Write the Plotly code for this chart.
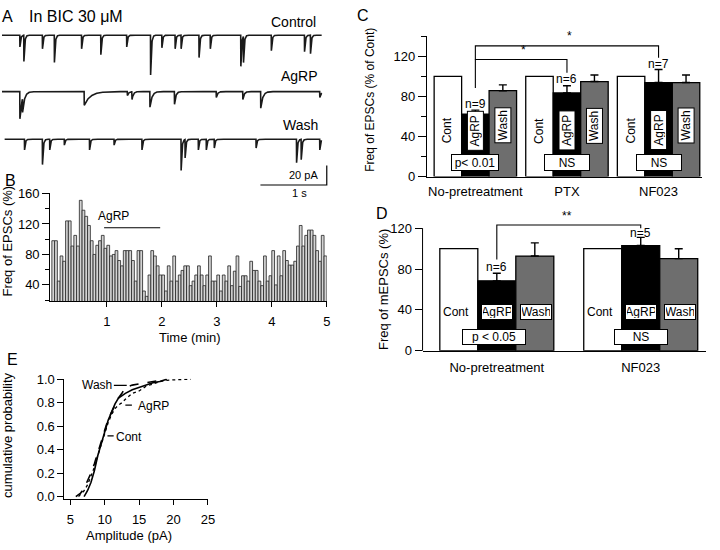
import numpy as np
import plotly.graph_objects as go

W, H = 720, 550
FONT = "Liberation Sans"


def fx(p):
    return p / W


def fy(p):
    return 1 - p / H


# ---------------- Panel A: sample current traces (event time s, amplitude pA) ----------
ctrl_times = [0.30, 0.36, 0.64, 0.82, 1.23, 1.52, 1.91, 2.27, 2.44, 2.64, 2.73, 3.00,
              3.17, 3.63, 3.67, 4.09, 4.59, 4.68]
ctrl_amps = [12, 27, 14, 28, 14, 20, 12, 41, 13, 14, 14, 23, 14, 32, 27, 16, 17, 19]
ctrl_taus = [0.012] * len(ctrl_times)

agrp_times = [0.30, 0.34, 1.27, 1.92, 1.99, 2.26, 2.63, 3.26, 3.66, 3.93, 4.82]
agrp_amps = [28, 14, 14, 4, 8, 16, 13, 6, 8, 17, 6]
agrp_taus = [0.03, 0.03, 0.09, 0.02, 0.02, 0.03, 0.02, 0.02, 0.02, 0.03, 0.02]

wash_times = [0.37, 0.64, 0.75, 0.97, 1.35, 1.72, 2.14, 2.73, 2.79, 2.99, 3.11, 3.23,
              3.86, 4.47, 4.54, 4.82]
wash_amps = [11, 26, 11, 6, 11, 6, 11, 32, 19, 11, 11, 9, 9, 24, 21, 11]
wash_taus = [0.012] * len(wash_times)

# ---------------- Panel B: EPSC frequency histogram (3-s bins, % of control) -----------
freq_pct = [98, 98, 45, 78, 71, 124, 124, 91, 105, 91,
            151, 138, 130, 118, 98, 80, 92, 98, 105, 88,
            92, 78, 80, 85, 72, 65, 85, 85, 85, 72,
            45, 85, 85, 32, 25, 53, 85, 78, 65, 53,
            53, 32, 65, 45, 78, 45, 53, 59, 65, 65,
            39, 45, 53, 65, 53, 39, 53, 78, 45, 45,
            53, 32, 53, 45, 65, 39, 58, 78, 38, 52,
            52, 45, 71, 59, 59, 45, 39, 78, 45, 52,
            85, 40, 78, 52, 85, 72, 66, 66, 71, 91,
            118, 91, 105, 112, 112, 105, 85, 71, 105, 78]
bin_min = 0.05
agrp_period = [0.95, 1.97]
agrp_level = 115

# ---------------- Panel C ----------------
c_groups = ["No-pretreatment", "PTX", "NF023"]
c_cont = [100, 100, 100]
c_agrp = [62.4, 83.5, 93.8]
c_agrp_err = [3.9, 7.1, 13.0]
c_wash = [85.7, 94.8, 93.8]
c_wash_err = [5.8, 6.5, 7.5]
c_n = ["n=9", "n=6", "n=7"]
c_stats = ["p< 0.01", "NS", "NS"]

# ---------------- Panel D ----------------
d_groups = ["No-pretreatment", "NF023"]
d_cont = [100, 100]
d_agrp = [68.4, 103.0]
d_agrp_err = [7.4, 8.0]
d_wash = [92.7, 90.2]
d_wash_err = [12.9, 9.6]
d_n = ["n=6", "n=5"]
d_stats = ["p < 0.05", "NS"]

# ---------------- Panel E: cumulative amplitude distributions ----------------
cont_amp = [7.0, 7.5, 8.0, 8.5, 9.0, 9.5, 10.0, 10.5, 11.0, 11.5, 12.0, 13.0, 14.0, 15.0,
            16.0, 17.0, 18.0, 19.0]
cont_cum = [0.0, 0.05, 0.12, 0.22, 0.35, 0.45, 0.55, 0.65, 0.72, 0.79, 0.84, 0.88, 0.91,
            0.93, 0.95, 0.97, 0.98, 1.0]
agrp_amp = [6.2, 7.0, 7.5, 8.0, 8.5, 9.0, 9.5, 10.0, 10.5, 11.0, 11.5, 12.0, 12.5, 13.0,
            14.0, 15.0, 16.0, 17.0, 18.0, 19.0, 20.0, 22.5]
agrp_cum = [0.0, 0.05, 0.10, 0.17, 0.25, 0.35, 0.45, 0.55, 0.63, 0.70, 0.75, 0.78, 0.80,
            0.83, 0.88, 0.90, 0.94, 0.96, 0.98, 0.99, 0.995, 1.0]
wash_amp = [5.8, 6.5, 7.0, 7.5, 8.0, 8.5, 9.0, 9.5, 10.0, 10.5, 11.0, 11.5, 12.0, 12.5,
            13.0, 14.0, 15.0, 16.0, 17.0, 18.0, 19.0]
wash_cum = [0.0, 0.03, 0.07, 0.13, 0.20, 0.28, 0.38, 0.48, 0.57, 0.66, 0.72, 0.78, 0.84,
            0.88, 0.93, 0.95, 0.96, 0.97, 0.98, 0.99, 1.0]

fig = go.Figure()


def build_trace(t0, t1, times, amps, taus, base):
    t = np.arange(t0, t1, 0.002)
    y = np.full(t.shape, float(base))
    for te, a, tau in zip(times, amps, taus):
        m = t >= te
        y[m] -= a * np.exp(-(t[m] - te) / tau)
    return t, y


for (t0, times, amps, taus, base) in [
    (0.03, ctrl_times, ctrl_amps, ctrl_taus, -29),
    (0.03, agrp_times, agrp_amps, agrp_taus, -87),
    (0.07, wash_times, wash_amps, wash_taus, -136),
]:
    t, y = build_trace(t0, 4.85, times, amps, taus, base)
    fig.add_trace(go.Scatter(x=t, y=y, mode="lines", line=dict(color="#1a1a1a", width=1.6),
                             xaxis="x", yaxis="y", hoverinfo="skip"))

# scale bar: 1 s, 20 pA
fig.add_trace(go.Scatter(x=[3.925, 4.925, 4.925], y=[-183, -183, -163], mode="lines",
                         line=dict(color="black", width=1.2), xaxis="x", yaxis="y"))

# Panel B bars
bin_centers = [(i + 0.5) * bin_min for i in range(len(freq_pct))]
fig.add_trace(go.Bar(x=bin_centers, y=freq_pct, width=bin_min, xaxis="x2", yaxis="y2",
                     marker=dict(color="#d4d4d4", line=dict(color="#222222", width=0.8))))
fig.add_trace(go.Scatter(x=agrp_period, y=[agrp_level, agrp_level], mode="lines",
                         line=dict(color="black", width=1.2), xaxis="x2", yaxis="y2"))

# Panel C bars
cw = 0.3
for k, (vals, errs, col) in enumerate([
    (c_cont, [0, 0, 0], "white"),
    (c_agrp, c_agrp_err, "black"),
    (c_wash, c_wash_err, "#6e6e6e"),
]):
    fig.add_trace(go.Bar(
        x=[g + (k - 1) * cw for g in range(len(c_groups))], y=vals, width=cw,
        xaxis="x3", yaxis="y3",
        marker=dict(color=col, line=dict(color="black", width=1.3)),
        error_y=dict(type="data", array=errs, arrayminus=[0] * len(errs), symmetric=False,
                     color="black", thickness=1.4, width=4, visible=k > 0)))

# C significance brackets
fig.add_trace(go.Scatter(x=[0, 0, 1, 1], y=[88.3, 116.8, 116.8, 103.5], mode="lines",
                         line=dict(color="black", width=1.1), xaxis="x3", yaxis="y3"))
fig.add_trace(go.Scatter(x=[0, 0, 2, 2], y=[116.8, 130.4, 130.4, 118.5], mode="lines",
                         line=dict(color="black", width=1.1), xaxis="x3", yaxis="y3"))

# Panel D bars
dw = 0.264
for k, (vals, errs, col) in enumerate([
    (d_cont, [0, 0], "white"),
    (d_agrp, d_agrp_err, "black"),
    (d_wash, d_wash_err, "#6e6e6e"),
]):
    fig.add_trace(go.Bar(
        x=[g + (k - 1) * dw for g in range(len(d_groups))], y=vals, width=dw,
        xaxis="x4", yaxis="y4",
        marker=dict(color=col, line=dict(color="black", width=1.3)),
        error_y=dict(type="data", array=errs, arrayminus=[0] * len(errs), symmetric=False,
                     color="black", thickness=1.4, width=4, visible=k > 0)))
fig.add_trace(go.Scatter(x=[0, 0, 1, 1], y=[89.3, 123.2, 123.2, 120], mode="lines",
                         line=dict(color="black", width=1.1), xaxis="x4", yaxis="y4"))

# Panel E curves
fig.add_trace(go.Scatter(x=cont_amp, y=cont_cum, mode="lines", line=dict(color="black", width=1.6),
                         xaxis="x5", yaxis="y5"))
fig.add_trace(go.Scatter(x=agrp_amp, y=agrp_cum, mode="lines",
                         line=dict(color="black", width=1.3, dash="dot"), xaxis="x5", yaxis="y5"))
fig.add_trace(go.Scatter(x=wash_amp, y=wash_cum, mode="lines",
                         line=dict(color="black", width=1.6, dash="dash"), xaxis="x5", yaxis="y5"))
for xs, yv in [([11.33, 13.2], 0.948), ([13.0, 13.95], 0.78), ([10.4, 11.3], 0.517)]:
    fig.add_trace(go.Scatter(x=xs, y=[yv, yv], mode="lines", line=dict(color="black", width=1.2),
                             xaxis="x5", yaxis="y5"))

ax_common = dict(showgrid=False, zeroline=False, showline=True, linecolor="black", linewidth=1,
                 ticks="outside", tickcolor="black", tickwidth=1,
                 tickfont=dict(family=FONT, size=13, color="black"))

layout = dict(
    width=W, height=H, margin=dict(l=0, r=0, t=0, b=0), showlegend=False,
    paper_bgcolor="white", plot_bgcolor="white",
    font=dict(family=FONT, size=13, color="black"),
    barmode="overlay",
    xaxis=dict(domain=[0, fx(335)], range=[0, 5.0], visible=False, anchor="y"),
    yaxis=dict(domain=[fy(185), 1], range=[-185, 0], visible=False, anchor="x"),
    xaxis2=dict(domain=[fx(50.7), fx(330)], range=[-0.03, 5.0], anchor="y2",
                tickvals=[1, 2, 3, 4, 5], ticklen=5, ticklabelstandoff=3, **ax_common),
    yaxis2=dict(domain=[fy(302.7), fy(191.7)], range=[18.3, 160], anchor="x2",
                tickvals=[40, 80, 120, 160], ticklen=7,
                minor=dict(ticks="outside", ticklen=4, tick0=0, dtick=20, tickcolor="black"),
                **ax_common),
    xaxis3=dict(domain=[fx(431), fx(708.5)], range=[-0.53, 2.47], anchor="y3",
                tickvals=[0, 1, 2], ticktext=c_groups, ticklabelstandoff=3,
                **{**ax_common, "ticks": ""}),
    yaxis3=dict(domain=[fy(174.3), fy(30.1)], range=[0, 140], anchor="x3",
                tickvals=[0, 40, 80, 120], ticklen=8,
                minor=dict(ticks="outside", ticklen=5, tick0=0, dtick=20, tickcolor="black"),
                **ax_common),
    xaxis4=dict(domain=[fx(426.7), fx(713)], range=[-0.516, 1.454], anchor="y4",
                tickvals=[0, 1], ticktext=d_groups, ticklabelstandoff=5,
                **{**ax_common, "ticks": ""}),
    yaxis4=dict(domain=[fy(353.3), fy(219.0)], range=[0, 128], anchor="x4",
                tickvals=[0, 40, 80, 120], ticklen=7,
                **{**ax_common, "showline": False}),
    xaxis5=dict(domain=[fx(65), fx(210)], range=[4.14, 25], anchor="y5",
                tickvals=[5, 10, 15, 20, 25], ticklen=5, ticklabelstandoff=3, **ax_common),
    yaxis5=dict(domain=[fy(506), fy(382.2)], range=[-0.022, 1.004], anchor="x5",
                tickvals=[0, 0.2, 0.4, 0.6, 0.8, 1.0], tickformat=".1f", ticklen=6, **ax_common),
)

shapes = [dict(type="line", xref="paper", yref="paper", x0=fx(426.7), x1=fx(426.7),
               y0=fy(353.3), y1=fy(227.3), line=dict(color="black", width=1))]


def ann(text, x, y, size=13, xanchor="center", yanchor="middle", xref="paper", yref="paper",
        angle=0, **kw):
    return dict(text=text, x=x, y=y, xref=xref, yref=yref, xanchor=xanchor, yanchor=yanchor,
                showarrow=False, textangle=angle, font=dict(family=FONT, size=size, color="black"),
                **kw)


annotations = [
    ann("A", fx(8), fy(9.5), size=16),
    ann("In BIC 30 μM", fx(27), fy(10), size=16, xanchor="left"),
    ann("Control", fx(321), fy(15.5), size=14, xanchor="right"),
    ann("AgRP", fx(323), fy(71), size=14, xanchor="right"),
    ann("Wash", fx(323), fy(121), size=14, xanchor="right"),
    ann("20 pA", fx(323), fy(173), size=11, xanchor="right"),
    ann("1 s", fx(302), fy(191), size=11),
    ann("B", fx(11), fy(178), size=16),
    ann("Freq of EPSCs (%)", fx(8), fy(240), angle=-90),
    ann("Time (min)", fx(192), fy(340)),
    ann("AgRP", 1.13, 131, size=12, xref="x2", yref="y2"),
    ann("C", fx(367), fy(8.5), size=16),
    ann("Freq of EPSCs (% of Cont)", fx(374), fy(95), size=12, angle=-90),
    ann("D", fx(386), fy(212), size=16),
    ann("Freq of mEPSCs (%)", fx(386.7), fy(290), angle=-90),
    ann("E", fx(13), fy(362), size=16),
    ann("cumulative probability", fx(7), fy(440), angle=-90),
    ann("Amplitude (pA)", fx(130), fy(543)),
    ann("Wash", 8.83, 0.95, size=12, xref="x5", yref="y5"),
    ann("AgRP", 17.07, 0.775, size=12, xref="x5", yref="y5"),
    ann("Cont", 13.48, 0.51, size=12, xref="x5", yref="y5"),
]

box = dict(bgcolor="white", bordercolor="black", borderwidth=1, borderpad=1)
for g in range(len(c_groups)):
    annotations.append(ann("Cont", g - cw, 46, size=12, xref="x3", yref="y3", angle=-90))
    annotations.append(ann("AgRP", g, 46, size=12, xref="x3", yref="y3", angle=-90,
                           width=36, height=13, **box))
    annotations.append(ann("Wash", g + cw, 51, size=12, xref="x3", yref="y3", angle=-90,
                           width=32, height=13, **box))
    annotations.append(ann(c_stats[g], g, 14.2, size=12, xref="x3", yref="y3",
                           width=44 if g == 0 else 42, height=13, **box))
annotations.append(ann(c_n[0], 0, 72, size=12, xref="x3", yref="y3"))
annotations.append(ann(c_n[1], 1, 97.3, size=12, xref="x3", yref="y3"))
annotations.append(ann(c_n[2], 2, 112.5, size=12, xref="x3", yref="y3"))
annotations.append(ann("*", 0.53, 117.5, size=12, xref="x3", yref="y3", yanchor="bottom"))
annotations.append(ann("*", 1.03, 131.0, size=12, xref="x3", yref="y3", yanchor="bottom"))

for g in range(len(d_groups)):
    annotations.append(ann("Cont", g - dw - 0.02, 38.2, size=12, xref="x4", yref="y4"))
    annotations.append(ann("AgRP", g, 38.2, size=12, xref="x4", yref="y4",
                           width=28, height=12, **box))
    annotations.append(ann("Wash", g + dw + 0.01, 38.2, size=12, xref="x4", yref="y4",
                           width=28, height=12, **box))
    annotations.append(ann(d_stats[g], g - 0.02 if g == 0 else g, 13, size=12, xref="x4",
                           yref="y4", width=60 if g == 0 else 50, height=12, **box))
annotations.append(ann(d_n[0], 0, 82.2, size=12, xref="x4", yref="y4"))
annotations.append(ann(d_n[1], 1, 115, size=12, xref="x4", yref="y4"))
annotations.append(ann("**", 0.49, 123.5, size=12, xref="x4", yref="y4", yanchor="bottom"))

fig.update_layout(**layout, shapes=shapes, annotations=annotations)
fig.write_html("out.html", config={"displayModeBar": False},
               post_script="document.body.style.margin='0';document.body.style.overflow='hidden';")
